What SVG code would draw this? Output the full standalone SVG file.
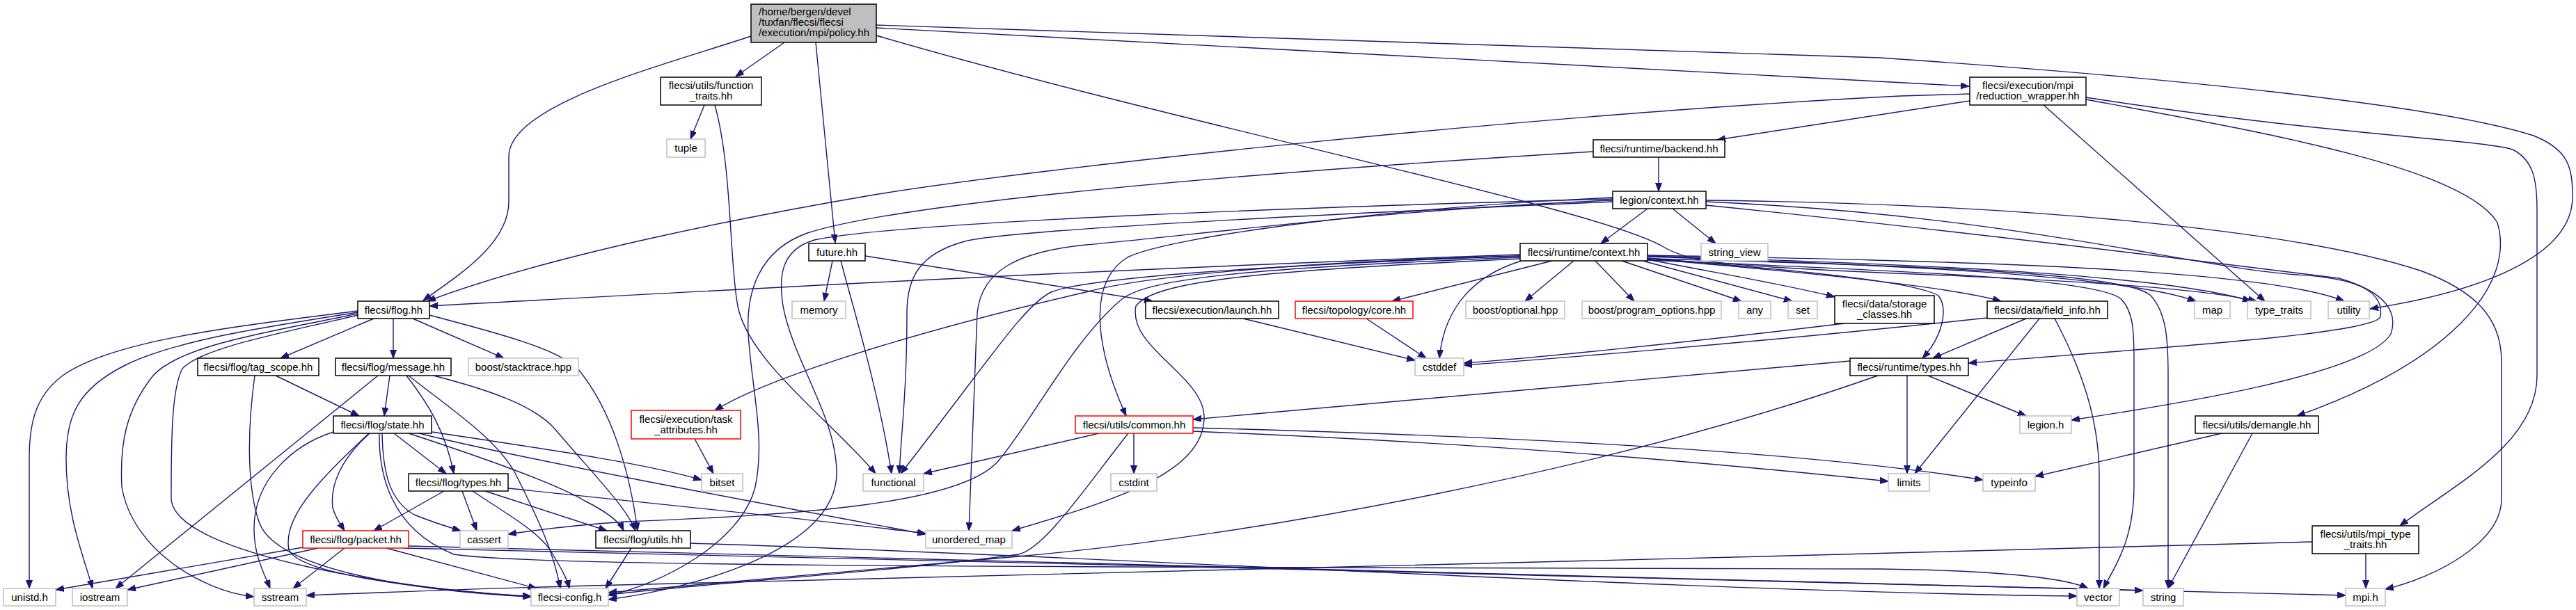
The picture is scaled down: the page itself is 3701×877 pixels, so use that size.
<svg xmlns="http://www.w3.org/2000/svg" width="3701" height="877" viewBox="0 0 3701 877">
<style>
rect{stroke-width:1.5}
.n{fill:#fff;stroke:#000}
.g{fill:#fff;stroke:#bfbfbf}
.r{fill:#fff;stroke:#f00}
.root{fill:#bfbfbf;stroke:#000}
text{font-family:"Liberation Sans",Arial,sans-serif;font-size:15px;text-anchor:middle;fill:#000}
.l{text-anchor:start}
#edges path{fill:none;stroke:#191970;stroke-width:1.4;marker-end:url(#a)}
</style>
<defs>
<marker id="a" markerWidth="13" markerHeight="10" refX="12" refY="4.5" orient="auto" markerUnits="userSpaceOnUse"><path d="M0,0 L12,4.5 L0,9 z" fill="#191970" stroke="#191970" stroke-width="1"/></marker>
</defs>
<rect width="3701" height="877" fill="#fff"/>
<g id="edges">
<path d="M1079,52 C950,95 731,150 731,225 L731,290 C731,350 660,395 608,432"/>
<path d="M1127,61 L1057,110"/>
<path d="M1172,61 L1200,349"/>
<path d="M1259,40 L2829,124"/>
<path d="M1259,36 L2700,83 C3100,110 3500,150 3640,195 C3690,215 3696,240 3696,283 C3696,370 3560,420 3405,444"/>
<path d="M1259,51 C1700,180 2300,300 2390,355 C2430,378 2480,382 2700,392 C2950,402 3150,412 3242,433"/>
<path d="M1012,151 L992,200"/>
<path d="M1027,151 C1052,240 1048,380 1060,440 C1075,520 1200,610 1258,681"/>
<path d="M2830,135 L2730,138 C2200,165 1500,240 1256,280 C1050,315 780,370 614,433"/>
<path d="M2830,145 L2467,201"/>
<path d="M2936,151 L3254,433"/>
<path d="M2997,143 C3250,190 3540,240 3588,320 C3615,410 3520,520 3300,598"/>
<path d="M2997,140 C3350,195 3560,200 3610,215 C3640,230 3645,260 3645,300 L3645,540 C3645,640 3520,700 3448,756"/>
<path d="M2383,226 L2383,275"/>
<path d="M2289,218 C1800,248 1300,290 1160,335 C1090,360 1072,420 1075,480 C1080,560 1100,630 1085,700 C1065,780 950,840 874,856"/>
<path d="M2367,300 L2300,350"/>
<path d="M2403,300 L2465,350"/>
<path d="M2317,286 C1900,297 1300,318 1170,345 C1120,360 1119,400 1125,440 C1140,520 1202,600 1202,680 C1202,790 1000,845 874,862"/>
<path d="M2317,290 C1900,308 1450,330 1386,347 C1320,365 1303,400 1303,450 C1303,560 1295,620 1292,681"/>
<path d="M2317,288 C2000,300 1700,340 1560,352 C1460,362 1410,390 1404,450 L1392,763"/>
<path d="M2317,284 C2000,298 1680,340 1620,370 C1570,400 1565,480 1618,598"/>
<path d="M2451,290 C2900,310 3150,385 3300,395 C3390,400 3425,420 3420,455 C3415,480 3100,500 2828,522"/>
<path d="M2451,295 C2800,330 3200,380 3360,400 C3430,420 3445,450 3435,480 C3400,540 3100,585 2976,604"/>
<path d="M2451,288 C2900,293 3300,330 3480,390 C3560,420 3594,460 3594,520 L3594,717 C3594,780 3500,830 3427,847"/>
<path d="M1196,375 L1184,433"/>
<path d="M1208,375 C1225,440 1262,560 1281,681"/>
<path d="M1243,368 L1656,433"/>
<path d="M2230,375 L2000,433"/>
<path d="M2261,375 L2191,433"/>
<path d="M2292,375 L2348,433"/>
<path d="M2330,375 L2502,433"/>
<path d="M2360,375 L2575,433"/>
<path d="M2367,373 C2480,395 2580,412 2636,427"/>
<path d="M2367,372 C2600,392 2800,412 2875,433"/>
<path d="M2367,371 C2600,390 2750,405 2785,425 C2800,445 2790,485 2762,515"/>
<path d="M2367,369 C2700,380 3050,395 3155,433"/>
<path d="M2367,368 C2700,378 3100,392 3234,433"/>
<path d="M2367,367 C2800,375 3250,385 3368,433"/>
<path d="M2367,374 C2750,390 3000,400 3045,428 C3066,445 3066,480 3066,520 L3066,700 C3066,780 3035,820 3022,846"/>
<path d="M2367,372 C2800,382 3060,395 3090,425 C3113,450 3115,490 3115,540 L3115,846"/>
<path d="M2186,375 C2120,395 2075,440 2068,515"/>
<path d="M2184,366 C1500,390 900,425 617,440"/>
<path d="M2184,368 C1900,375 1650,395 1560,420 C1300,480 1100,545 1027,590"/>
<path d="M2184,370 C1800,385 1650,400 1612,430 C1540,490 1480,610 1434,663 C1380,725 1150,740 900,750 C820,755 770,762 730,768"/>
<path d="M2184,372 C1850,388 1660,400 1632,440 C1620,500 1730,540 1730,600 C1730,680 1600,720 1454,763"/>
<path d="M2184,368 C1800,382 1560,400 1510,420 C1470,440 1420,520 1294,681"/>
<path d="M1579,623 L1327,681"/>
<path d="M1629,623 L1629,681"/>
<path d="M1714,620 C2200,640 2500,670 2713,692"/>
<path d="M1714,615 C2200,628 2600,650 2849,690"/>
<path d="M1621,623 C1560,700 1500,790 1463,797 C1300,820 1000,840 874,855"/>
<path d="M2658,519 L1714,603"/>
<path d="M2740,540 L2740,681"/>
<path d="M2770,540 L2911,598"/>
<path d="M2698,540 C2300,680 1800,770 1463,800 C1200,825 1000,840 874,852"/>
<path d="M2855,457 C2500,495 2200,518 2103,525"/>
<path d="M2911,458 L2777,515"/>
<path d="M2930,458 L2751,681"/>
<path d="M2952,458 C2990,530 3015,600 3016,680 L3016,846"/>
<path d="M2650,465 C2400,495 2200,515 2103,522"/>
<path d="M3192,623 L2924,685"/>
<path d="M3236,623 L3115,846"/>
<path d="M3399,796 L3399,846"/>
<path d="M3322,779 C2500,800 1500,830 930,840 C700,845 550,852 440,856"/>
<path d="M537,458 L403,515"/>
<path d="M565,458 L565,515"/>
<path d="M593,458 L724,515"/>
<path d="M617,453 C700,475 800,500 830,530 C880,590 905,680 916,763"/>
<path d="M514,447 C330,470 160,490 90,540 C50,570 42,610 42,660 L42,846"/>
<path d="M514,449 C380,470 250,490 180,525 C110,560 95,600 95,660 C95,740 120,800 133,846"/>
<path d="M514,451 C400,475 260,495 220,540 C180,590 172,640 175,700 C190,790 290,850 365,858"/>
<path d="M514,453 C400,480 290,500 262,530 C246,560 246,640 246,717 C250,800 600,850 763,857"/>
<path d="M396,540 L516,598"/>
<path d="M366,540 C355,620 355,700 372,750 C395,820 600,850 763,858"/>
<path d="M560,540 L552,598"/>
<path d="M543,540 L166,846"/>
<path d="M584,540 C615,580 640,620 652,681"/>
<path d="M587,540 C650,590 712,630 740,680 C770,740 795,790 805,846"/>
<path d="M623,540 C700,560 771,583 800,620 C860,690 900,730 913,763"/>
<path d="M566,623 L641,681"/>
<path d="M531,623 C490,660 474,697 478,730 C482,745 490,755 495,763"/>
<path d="M479,621 C420,640 365,690 365,760 C365,800 380,825 388,846"/>
<path d="M530,623 C470,680 405,740 415,790 C430,830 650,850 763,858"/>
<path d="M549,623 C550,680 560,720 595,740 C625,752 645,758 662,763"/>
<path d="M587,623 C700,660 801,697 840,720 C870,735 890,750 896,763"/>
<path d="M620,621 C800,648 930,667 1008,690"/>
<path d="M602,623 C750,660 1100,725 1330,768"/>
<path d="M545,623 C544,680 560,760 652,797 C760,815 1500,815 2700,818 C2850,820 2960,828 3000,846"/>
<path d="M435,787 L80,848"/>
<path d="M457,788 L183,848"/>
<path d="M495,788 L421,846"/>
<path d="M555,788 L771,846"/>
<path d="M992,781 C1600,800 2400,850 2984,857"/>
<path d="M580,788 C1500,812 2800,836 3370,856"/>
<path d="M587,785 C1500,810 2700,833 3079,849"/>
<path d="M638,706 L537,763"/>
<path d="M664,706 L685,763"/>
<path d="M679,706 C730,740 771,763 790,790 C805,815 814,830 818,846"/>
<path d="M697,706 L872,763"/>
<path d="M730,702 C900,720 1200,750 1330,767"/>
<path d="M907,788 L870,846"/>
<path d="M998,631 L1025,681"/>
<path d="M1786,458 L2033,518"/>
<path d="M1963,458 L2049,515"/>
</g>
<g id="policy"><rect class="root" x="1079" y="6" width="180" height="55"/><text class="l" x="1090" y="22">/home/bergen/devel</text><text class="l" x="1090" y="37">/tuxfan/flecsi/flecsi</text><text class="l" x="1090" y="52">/execution/mpi/policy.hh</text></g>
<g id="function_traits"><rect class="n" x="949" y="111" width="145" height="40"/><text x="1021.5" y="128">flecsi/utils/function</text><text x="1021.5" y="143">_traits.hh</text></g>
<g id="reduction_wrapper"><rect class="n" x="2830" y="111" width="167" height="40"/><text x="2913.5" y="128">flecsi/execution/mpi</text><text x="2913.5" y="143">/reduction_wrapper.hh</text></g>
<g id="tuple"><rect class="g" x="958" y="200" width="55" height="26"/><text x="985.5" y="218">tuple</text></g>
<g id="backend"><rect class="n" x="2289" y="201" width="189" height="25"/><text x="2383.5" y="218.5">flecsi/runtime/backend.hh</text></g>
<g id="legion_context"><rect class="n" x="2317" y="275" width="134" height="25"/><text x="2384" y="292.5">legion/context.hh</text></g>
<g id="future"><rect class="n" x="1162" y="350" width="81" height="25"/><text x="1202.5" y="367.5">future.hh</text></g>
<g id="runtime_context"><rect class="n" x="2184" y="350" width="183" height="25"/><text x="2275.5" y="367.5">flecsi/runtime/context.hh</text></g>
<g id="string_view"><rect class="g" x="2444" y="350" width="96" height="25"/><text x="2492" y="367.5">string_view</text></g>
<g id="flog"><rect class="n" x="514" y="433" width="103" height="25"/><text x="565.5" y="450.5">flecsi/flog.hh</text></g>
<g id="memory"><rect class="g" x="1138" y="433" width="77" height="25"/><text x="1176.5" y="450.5">memory</text></g>
<g id="launch"><rect class="n" x="1646" y="433" width="191" height="25"/><text x="1741.5" y="450.5">flecsi/execution/launch.hh</text></g>
<g id="topology_core"><rect class="r" x="1861" y="433" width="169" height="25"/><text x="1945.5" y="450.5">flecsi/topology/core.hh</text></g>
<g id="boost_optional"><rect class="g" x="2106" y="433" width="142" height="25"/><text x="2177" y="450.5">boost/optional.hpp</text></g>
<g id="boost_program_options"><rect class="g" x="2273" y="433" width="200" height="25"/><text x="2373" y="450.5">boost/program_options.hpp</text></g>
<g id="any"><rect class="g" x="2498" y="433" width="46" height="25"/><text x="2521" y="450.5">any</text></g>
<g id="set"><rect class="g" x="2569" y="433" width="42" height="25"/><text x="2590" y="450.5">set</text></g>
<g id="storage_classes"><rect class="n" x="2636" y="425" width="143" height="40"/><text x="2707.5" y="442">flecsi/data/storage</text><text x="2707.5" y="457">_classes.hh</text></g>
<g id="field_info"><rect class="n" x="2855" y="433" width="173" height="25"/><text x="2941.5" y="450.5">flecsi/data/field_info.hh</text></g>
<g id="map"><rect class="g" x="3153" y="433" width="51" height="25"/><text x="3178.5" y="450.5">map</text></g>
<g id="type_traits"><rect class="g" x="3229" y="433" width="91" height="25"/><text x="3274.5" y="450.5">type_traits</text></g>
<g id="utility"><rect class="g" x="3345" y="433" width="59" height="25"/><text x="3374.5" y="450.5">utility</text></g>
<g id="tag_scope"><rect class="n" x="284" y="515" width="174" height="25"/><text x="371" y="532.5">flecsi/flog/tag_scope.hh</text></g>
<g id="message"><rect class="n" x="482" y="515" width="166" height="25"/><text x="565" y="532.5">flecsi/flog/message.hh</text></g>
<g id="stacktrace"><rect class="g" x="673" y="515" width="158" height="25"/><text x="752" y="532.5">boost/stacktrace.hpp</text></g>
<g id="cstddef"><rect class="g" x="2033" y="515" width="70" height="25"/><text x="2068" y="532.5">cstddef</text></g>
<g id="runtime_types"><rect class="n" x="2658" y="515" width="170" height="25"/><text x="2743" y="532.5">flecsi/runtime/types.hh</text></g>
<g id="state"><rect class="n" x="479" y="598" width="141" height="25"/><text x="549.5" y="615.5">flecsi/flog/state.hh</text></g>
<g id="task_attributes"><rect class="r" x="907" y="590" width="157" height="41"/><text x="985.5" y="607.5">flecsi/execution/task</text><text x="985.5" y="622.5">_attributes.hh</text></g>
<g id="common"><rect class="r" x="1545" y="598" width="169" height="25"/><text x="1629.5" y="615.5">flecsi/utils/common.hh</text></g>
<g id="legion_h"><rect class="g" x="2902" y="598" width="74" height="25"/><text x="2939" y="615.5">legion.h</text></g>
<g id="demangle"><rect class="n" x="3154" y="598" width="177" height="25"/><text x="3242.5" y="615.5">flecsi/utils/demangle.hh</text></g>
<g id="flog_types"><rect class="n" x="587" y="681" width="143" height="25"/><text x="658.5" y="698.5">flecsi/flog/types.hh</text></g>
<g id="bitset"><rect class="g" x="1008" y="681" width="59" height="25"/><text x="1037.5" y="698.5">bitset</text></g>
<g id="functional"><rect class="g" x="1240" y="681" width="87" height="25"/><text x="1283.5" y="698.5">functional</text></g>
<g id="cstdint"><rect class="g" x="1596" y="681" width="66" height="25"/><text x="1629" y="698.5">cstdint</text></g>
<g id="limits"><rect class="g" x="2713" y="681" width="59" height="25"/><text x="2742.5" y="698.5">limits</text></g>
<g id="typeinfo"><rect class="g" x="2849" y="681" width="75" height="25"/><text x="2886.5" y="698.5">typeinfo</text></g>
<g id="packet"><rect class="r" x="435" y="763" width="152" height="25"/><text x="511" y="780.5">flecsi/flog/packet.hh</text></g>
<g id="cassert"><rect class="g" x="661" y="763" width="69" height="25"/><text x="695.5" y="780.5">cassert</text></g>
<g id="flog_utils"><rect class="n" x="856" y="763" width="136" height="25"/><text x="924" y="780.5">flecsi/flog/utils.hh</text></g>
<g id="unordered_map"><rect class="g" x="1330" y="763" width="124" height="25"/><text x="1392" y="780.5">unordered_map</text></g>
<g id="mpi_type_traits"><rect class="n" x="3322" y="756" width="153" height="40"/><text x="3398.5" y="773">flecsi/utils/mpi_type</text><text x="3398.5" y="788">_traits.hh</text></g>
<g id="unistd"><rect class="g" x="5" y="846" width="75" height="25"/><text x="42.5" y="863.5">unistd.h</text></g>
<g id="iostream"><rect class="g" x="104" y="846" width="79" height="25"/><text x="143.5" y="863.5">iostream</text></g>
<g id="sstream"><rect class="g" x="365" y="846" width="75" height="25"/><text x="402.5" y="863.5">sstream</text></g>
<g id="flecsi_config"><rect class="g" x="763" y="846" width="111" height="25"/><text x="818.5" y="863.5">flecsi-config.h</text></g>
<g id="vector"><rect class="g" x="2984" y="846" width="61" height="25"/><text x="3014.5" y="863.5">vector</text></g>
<g id="string"><rect class="g" x="3079" y="846" width="58" height="25"/><text x="3108" y="863.5">string</text></g>
<g id="mpi_h"><rect class="g" x="3370" y="846" width="57" height="25"/><text x="3398.5" y="863.5">mpi.h</text></g>
</svg>
